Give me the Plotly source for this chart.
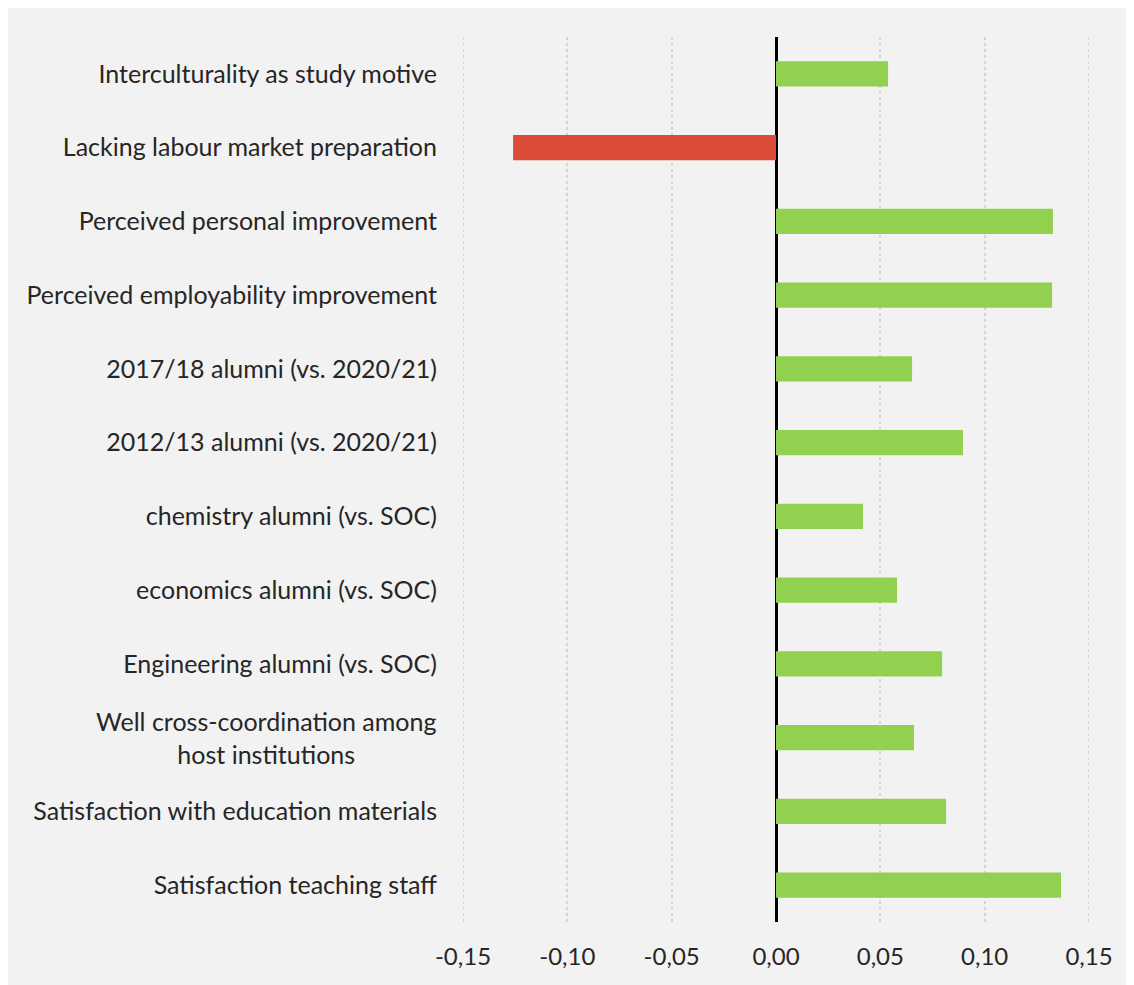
import plotly.graph_objects as go

categories = [
    "Interculturality as study motive",
    "Lacking labour market preparation",
    "Perceived personal improvement",
    "Perceived employability improvement",
    "2017/18 alumni (vs. 2020/21)",
    "2012/13 alumni (vs. 2020/21)",
    "chemistry alumni (vs. SOC)",
    "economics alumni (vs. SOC)",
    "Engineering alumni (vs. SOC)",
    "Well cross-coordination among<br>host institutions",
    "Satisfaction with education materials",
    "Satisfaction teaching staff",
]
values = [0.0537, -0.126, 0.1327, 0.1323, 0.0652, 0.0896, 0.0417, 0.058, 0.0796, 0.0661, 0.0815, 0.1366]
tick_vals = [-0.15, -0.10, -0.05, 0.00, 0.05, 0.10, 0.15]
tick_text = ["-0,15", "-0,10", "-0,05", "0,00", "0,05", "0,10", "0,15"]
x_range = [-0.15, 0.15]

GREEN = "#92D050"
RED = "#DD4B39"
TEXT = "#262626"
GRID = "#d4d4d4"
FONT = "Lato, 'Open Sans', sans-serif"
colors = [RED if v < 0 else GREEN for v in values]

# page body has an 8px margin; figure fills the rest
W, H = 1126, 977
L, R, T, B = 455, 1081, 29, 914

# multi-line labels are drawn as centered annotations
y_ticktext = ["" if "<br>" in c else c for c in categories]

fig = go.Figure()
fig.add_trace(go.Bar(
    y=categories, x=values, orientation="h",
    marker=dict(color=colors, line=dict(width=0)),
    width=0.34,
))

for c in categories:
    if "<br>" in c:
        fig.add_annotation(
            x=0, xref="paper", y=c, yref="y", xanchor="right", yanchor="middle",
            xshift=-25, text=c, showarrow=False, align="center",
            font=dict(family=FONT, size=25, color=TEXT),
        )

# gridlines at the range edges (plotly omits those)
for xv in x_range:
    fig.add_shape(
        type="line", xref="x", yref="paper", x0=xv, x1=xv, y0=0, y1=1,
        line=dict(color=GRID, width=2, dash="dot"), layer="below",
    )

fig.update_layout(
    width=W, height=H,
    margin=dict(l=L, r=W - R, t=T, b=H - B, pad=0),
    paper_bgcolor="#f2f2f2",
    plot_bgcolor="#f2f2f2",
    showlegend=False,
    font=dict(family=FONT, size=25, color=TEXT),
    xaxis=dict(
        range=x_range,
        tickvals=tick_vals, ticktext=tick_text,
        showgrid=True, gridcolor=GRID, gridwidth=2, griddash="dot",
        zeroline=True, zerolinecolor="black", zerolinewidth=3,
        showline=False, ticks="", ticklen=0,
        ticklabelstandoff=18,
        tickfont=dict(family=FONT, size=24, color=TEXT),
    ),
    yaxis=dict(
        autorange="reversed",
        tickvals=categories, ticktext=y_ticktext,
        showgrid=False, zeroline=False, showline=False,
        ticks="", ticklabelstandoff=25,
        tickfont=dict(family=FONT, size=25, color=TEXT),
    ),
)

fig.write_html("out.html")
